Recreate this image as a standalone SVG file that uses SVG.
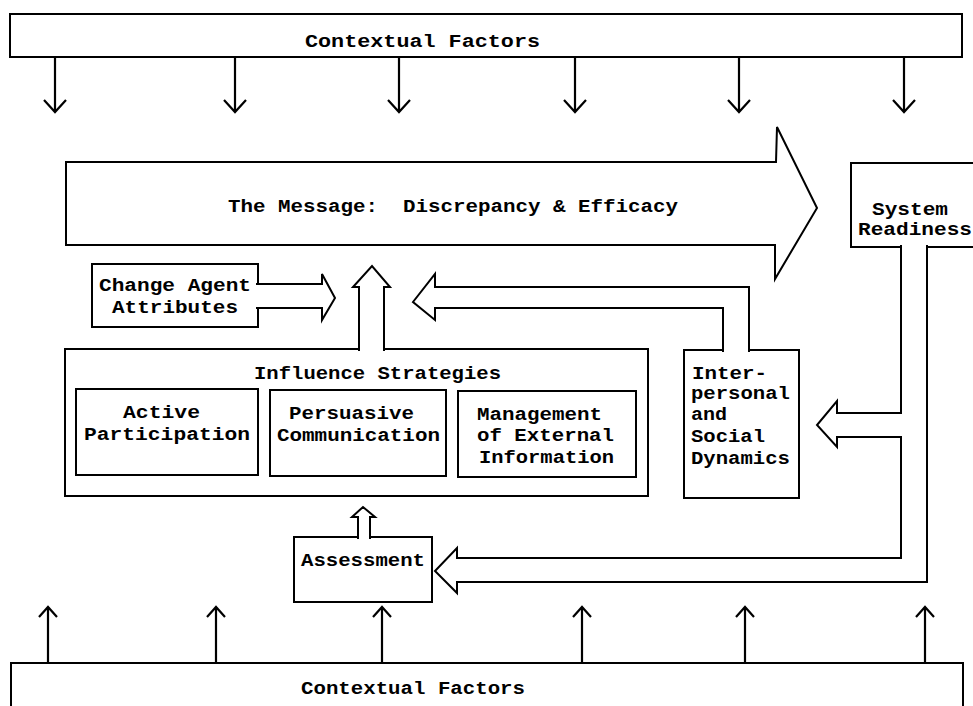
<svg xmlns="http://www.w3.org/2000/svg" width="973" height="706" viewBox="0 0 973 706">
<style>
  .box{fill:#fff;stroke:#000;stroke-width:2}
  .blk{fill:#fff;stroke:#000;stroke-width:2;stroke-linejoin:miter}
  .ln{fill:none;stroke:#000;stroke-width:2.2}
  .t{font-family:"Liberation Mono","DejaVu Sans Mono",monospace;font-weight:bold;font-size:18px;fill:#000;white-space:pre}
</style>
<rect width="973" height="706" fill="#fff"/>

<g id="contextual-top">
  <rect class="box" x="10" y="14" width="952" height="43"/>
  <text class="t" x="305" y="47" textLength="235" lengthAdjust="spacingAndGlyphs">Contextual Factors</text>
</g>

<g id="contextual-bottom">
  <rect class="box" x="11" y="663" width="952" height="60"/>
  <text class="t" x="301" y="694" textLength="224" lengthAdjust="spacingAndGlyphs">Contextual Factors</text>
</g>

<g id="message">
  <polygon class="blk" points="66,162 776,162 777,127 817,208 775,279 775,245 66,245"/>
  <text class="t" x="228" y="212" textLength="450" lengthAdjust="spacingAndGlyphs" xml:space="preserve">The Message:  Discrepancy &amp; Efficacy</text>
</g>

<g id="system-readiness">
  <rect class="box" x="851" y="163" width="140" height="84"/>
  <text class="t" x="872" y="215" textLength="76" lengthAdjust="spacingAndGlyphs">System</text>
  <text class="t" x="858" y="235" textLength="114" lengthAdjust="spacingAndGlyphs">Readiness</text>
</g>

<g id="change-agent">
  <rect class="box" x="92" y="264" width="166" height="63"/>
  <text class="t" x="99" y="291" textLength="152" lengthAdjust="spacingAndGlyphs">Change Agent</text>
  <text class="t" x="112" y="313" textLength="126" lengthAdjust="spacingAndGlyphs">Attributes</text>
</g>

<g id="influence-strategies">
  <rect class="box" x="65" y="349" width="583" height="147"/>
  <text class="t" x="254" y="379" textLength="247" lengthAdjust="spacingAndGlyphs">Influence Strategies</text>
</g>

<g id="active-participation">
  <rect class="box" x="76" y="389" width="182" height="86"/>
  <text class="t" x="123" y="418" textLength="77" lengthAdjust="spacingAndGlyphs">Active</text>
  <text class="t" x="84" y="440" textLength="166" lengthAdjust="spacingAndGlyphs">Participation</text>
</g>

<g id="persuasive-communication">
  <rect class="box" x="270" y="390" width="176" height="86"/>
  <text class="t" x="289" y="419" textLength="125" lengthAdjust="spacingAndGlyphs">Persuasive</text>
  <text class="t" x="277" y="441" textLength="163" lengthAdjust="spacingAndGlyphs">Communication</text>
</g>

<g id="management-external-information">
  <rect class="box" x="458" y="391" width="178" height="86"/>
  <text class="t" x="477" y="420" textLength="125" lengthAdjust="spacingAndGlyphs">Management</text>
  <text class="t" x="477" y="441" textLength="137" lengthAdjust="spacingAndGlyphs">of External</text>
  <text class="t" x="479" y="463" textLength="135" lengthAdjust="spacingAndGlyphs">Information</text>
</g>

<g id="interpersonal">
  <rect class="box" x="684" y="350" width="115" height="148"/>
  <text class="t" x="692" y="379" textLength="75" lengthAdjust="spacingAndGlyphs">Inter-</text>
  <text class="t" x="691" y="399" textLength="99" lengthAdjust="spacingAndGlyphs">personal</text>
  <text class="t" x="691" y="420" textLength="36" lengthAdjust="spacingAndGlyphs">and</text>
  <text class="t" x="691" y="442" textLength="74" lengthAdjust="spacingAndGlyphs">Social</text>
  <text class="t" x="691" y="464" textLength="99" lengthAdjust="spacingAndGlyphs">Dynamics</text>
</g>

<g id="assessment">
  <rect class="box" x="294" y="537" width="138" height="65"/>
  <text class="t" x="301" y="566" textLength="124" lengthAdjust="spacingAndGlyphs">Assessment</text>
</g>

<g id="connectors">
  <!-- contextual factors down arrows -->
  <g class="ln">
    <path d="M55,57 V112 M44,100 L55,112 L66,100"/>
    <path d="M235,57 V112 M224,100 L235,112 L246,100"/>
    <path d="M399,57 V112 M388,100 L399,112 L410,100"/>
    <path d="M575,57 V112 M564,100 L575,112 L586,100"/>
    <path d="M739,57 V112 M728,100 L739,112 L750,100"/>
    <path d="M904,57 V112 M893,100 L904,112 L915,100"/>
  </g>
  <!-- contextual factors up arrows -->
  <g class="ln">
    <path d="M48,663 V607 M39,617 L48,607 L57,617"/>
    <path d="M216,663 V607 M207,617 L216,607 L225,617"/>
    <path d="M382,663 V607 M373,617 L382,607 L391,617"/>
    <path d="M582,663 V607 M573,617 L582,607 L591,617"/>
    <path d="M745,663 V607 M736,617 L745,607 L754,617"/>
    <path d="M925,663 V607 M916,617 L925,607 L934,617"/>
  </g>
  <!-- change agent attributes to message -->
  <path class="blk" d="M256,284 L322,284 L322,274 L335,298 L322,320 L322,308 L256,308"/>
  <!-- influence strategies to message -->
  <path class="blk" d="M359,351 L359,287 L353,287 L372,266 L390,287 L384,287 L384,351"/>
  <!-- interpersonal dynamics to message -->
  <path class="blk" d="M749,352 L749,287 L435,287 L435,274 L413,302 L435,320 L435,308 L723,308 L723,352"/>
  <!-- assessment to influence strategies -->
  <path class="blk" d="M358,539 L358,517 L352,517 L363,507 L375,517 L370,517 L370,539"/>
  <!-- system readiness to interpersonal and assessment -->
  <path class="blk" d="M927,245 L927,582 L457,582 L457,593 L435,571 L457,548 L457,558 L901,558 L901,437 L837,437 L837,447 L817,425 L837,401 L837,413 L901,413 L901,245"/>
</g>
</svg>
